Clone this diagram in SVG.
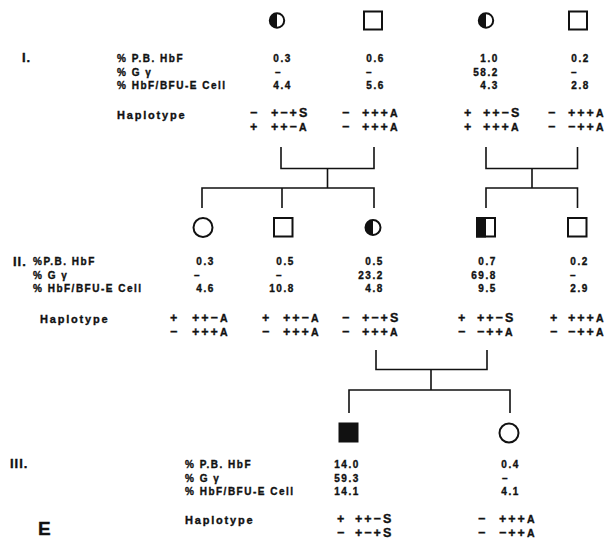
<svg xmlns="http://www.w3.org/2000/svg" width="616" height="544" viewBox="0 0 616 544">
  <style>
    text { font-family: "Liberation Sans", Arial, sans-serif; font-weight: bold; fill: #111; stroke: #111; stroke-width: 0.35px; }
    .lab { font-size: 10px; letter-spacing: 1.5px; }
    .hl { font-size: 11px; letter-spacing: 1.8px; }
    .num { font-size: 10px; letter-spacing: 1.6px; text-anchor: end; }
    .dash { font-size: 10px; }
    .hap { font-size: 12.5px; letter-spacing: 2px; }
    .a { font-size: 10.5px; }
    .gen { font-size: 13px; letter-spacing: 1px; }
    .sym { fill: #fff; stroke: #111; stroke-width: 2; }
    .fill { fill: #111; stroke: none; }
    .line { fill: none; stroke: #111; stroke-width: 1.6; }
  </style>

  <!-- generation labels and row headings -->
  <g id="labels">
    <text class="gen" x="22" y="62">I.</text>
    <text class="lab" x="117" y="62">% P.B. HbF</text>
    <text class="lab" x="117" y="75.5">% G γ</text>
    <text class="lab" x="117" y="89">% HbF/BFU-E Cell</text>
    <text class="hl" x="117" y="119">Haplotype</text>

    <text class="gen" x="13" y="266">II.</text>
    <text class="lab" x="33" y="265">%P.B. HbF</text>
    <text class="lab" x="33" y="279">% G γ</text>
    <text class="lab" x="33" y="292">% HbF/BFU-E Cell</text>
    <text class="hl" x="40" y="323">Haplotype</text>

    <text class="gen" x="10" y="468">III.</text>
    <text class="lab" x="185" y="468">% P.B. HbF</text>
    <text class="lab" x="185" y="482">% G γ</text>
    <text class="lab" x="185" y="495">% HbF/BFU-E Cell</text>
    <text class="hl" x="185" y="524">Haplotype</text>

    <text x="38" y="535" style="font-size:19px">E</text>
  </g>

  <!-- pedigree lines -->
  <g id="connectors" class="line">
    <path d="M281 147 V168.5 H374 V147 M327.5 168.5 V188 M202 208 V188 H374 V208 M282 188 V208"/>
    <path d="M486 147 V168.5 H577.5 V147 M532 168.5 V188 M486 208 V188 H577.5 V208"/>
    <path d="M376 350 V369.5 H487 V350 M431 369.5 V390 M349 413 V390 H510 V413"/>
  </g>

  <!-- generation I -->
  <g id="I-1">
    <circle class="sym" cx="277" cy="20.5" r="7.2"/>
    <path class="fill" d="M277 13.3 A7.2 7.2 0 0 0 277 27.7 Z"/>
    <text class="num" x="292" y="62">0.3</text>
    <text class="dash" x="275" y="75.5">–</text>
    <text class="num" x="292" y="89">4.4</text>
    <text class="hap"><tspan x="250" y="117">−</tspan><tspan x="271" y="117">+−+S</tspan></text>
    <text class="hap"><tspan x="250" y="131">+</tspan><tspan x="271" y="131">++−<tspan class="a">A</tspan></tspan></text>
  </g>
  <g id="I-2">
    <rect class="sym" x="364" y="11.5" width="18" height="18"/>
    <text class="num" x="385" y="62">0.6</text>
    <text class="dash" x="366" y="75.5">–</text>
    <text class="num" x="385" y="89">5.6</text>
    <text class="hap"><tspan x="342" y="117">−</tspan><tspan x="362" y="117">+++<tspan class="a">A</tspan></tspan></text>
    <text class="hap"><tspan x="342" y="131">−</tspan><tspan x="362" y="131">+++<tspan class="a">A</tspan></tspan></text>
  </g>
  <g id="I-3">
    <circle class="sym" cx="486" cy="20.5" r="7.2"/>
    <path class="fill" d="M486 13.3 A7.2 7.2 0 0 0 486 27.7 Z"/>
    <text class="num" x="499" y="62">1.0</text>
    <text class="num" x="499" y="75.5">58.2</text>
    <text class="num" x="499" y="89">4.3</text>
    <text class="hap"><tspan x="464" y="117">+</tspan><tspan x="483" y="117">++−S</tspan></text>
    <text class="hap"><tspan x="464" y="131">+</tspan><tspan x="483" y="131">+++<tspan class="a">A</tspan></tspan></text>
  </g>
  <g id="I-4">
    <rect class="sym" x="569" y="11.5" width="18" height="18"/>
    <text class="num" x="590" y="62">0.2</text>
    <text class="dash" x="571" y="75.5">–</text>
    <text class="num" x="590" y="89">2.8</text>
    <text class="hap"><tspan x="548" y="117">−</tspan><tspan x="568" y="117">+++<tspan class="a">A</tspan></tspan></text>
    <text class="hap"><tspan x="548" y="131">−</tspan><tspan x="568" y="131">−++<tspan class="a">A</tspan></tspan></text>
  </g>

  <!-- generation II -->
  <g id="II-1">
    <circle class="sym" cx="203" cy="227.5" r="9.5"/>
    <text class="num" x="215" y="265">0.3</text>
    <text class="dash" x="194" y="279">–</text>
    <text class="num" x="215" y="292">4.6</text>
    <text class="hap"><tspan x="170" y="322">+</tspan><tspan x="192" y="322">++−<tspan class="a">A</tspan></tspan></text>
    <text class="hap"><tspan x="170" y="336">−</tspan><tspan x="192" y="336">+++<tspan class="a">A</tspan></tspan></text>
  </g>
  <g id="II-2">
    <rect class="sym" x="274" y="218" width="18.5" height="18.5"/>
    <text class="num" x="295" y="265">0.5</text>
    <text class="dash" x="276" y="279">–</text>
    <text class="num" x="295" y="292">10.8</text>
    <text class="hap"><tspan x="262" y="322">+</tspan><tspan x="283" y="322">++−<tspan class="a">A</tspan></tspan></text>
    <text class="hap"><tspan x="262" y="336">−</tspan><tspan x="283" y="336">+++<tspan class="a">A</tspan></tspan></text>
  </g>
  <g id="II-3">
    <circle class="sym" cx="373" cy="227.5" r="7.5"/>
    <path class="fill" d="M373 220 A7.5 7.5 0 0 0 373 235 Z"/>
    <text class="num" x="384" y="265">0.5</text>
    <text class="num" x="384" y="279">23.2</text>
    <text class="num" x="384" y="292">4.8</text>
    <text class="hap"><tspan x="342" y="322">−</tspan><tspan x="362" y="322">+−+S</tspan></text>
    <text class="hap"><tspan x="342" y="336">−</tspan><tspan x="362" y="336">+++<tspan class="a">A</tspan></tspan></text>
  </g>
  <g id="II-4">
    <rect class="sym" x="477" y="218" width="18" height="18.5"/>
    <rect class="fill" x="476" y="217" width="10" height="20.5"/>
    <text class="num" x="497" y="265">0.7</text>
    <text class="num" x="497" y="279">69.8</text>
    <text class="num" x="497" y="292">9.5</text>
    <text class="hap"><tspan x="458" y="322">+</tspan><tspan x="477" y="322">++−S</tspan></text>
    <text class="hap"><tspan x="458" y="336">−</tspan><tspan x="477" y="336">−++<tspan class="a">A</tspan></tspan></text>
  </g>
  <g id="II-5">
    <rect class="sym" x="568" y="218" width="18.5" height="18.5"/>
    <text class="num" x="589" y="265">0.2</text>
    <text class="dash" x="570" y="279">–</text>
    <text class="num" x="589" y="292">2.9</text>
    <text class="hap"><tspan x="550" y="322">+</tspan><tspan x="568" y="322">+++<tspan class="a">A</tspan></tspan></text>
    <text class="hap"><tspan x="550" y="336">−</tspan><tspan x="568" y="336">−++<tspan class="a">A</tspan></tspan></text>
  </g>

  <!-- generation III -->
  <g id="III-1">
    <rect class="fill" x="338.5" y="422.5" width="20" height="20"/>
    <text class="num" x="360" y="468">14.0</text>
    <text class="num" x="360" y="482">59.3</text>
    <text class="num" x="360" y="495">14.1</text>
    <text class="hap"><tspan x="337" y="523">+</tspan><tspan x="355" y="523">++−S</tspan></text>
    <text class="hap"><tspan x="337" y="537">−</tspan><tspan x="355" y="537">+−+S</tspan></text>
  </g>
  <g id="III-2">
    <circle class="sym" cx="509" cy="433" r="9.5"/>
    <text class="num" x="520" y="468">0.4</text>
    <text class="dash" x="502" y="482">–</text>
    <text class="num" x="520" y="495">4.1</text>
    <text class="hap"><tspan x="478" y="523">−</tspan><tspan x="499" y="523">+++<tspan class="a">A</tspan></tspan></text>
    <text class="hap"><tspan x="478" y="537">−</tspan><tspan x="499" y="537">−++<tspan class="a">A</tspan></tspan></text>
  </g>
</svg>
